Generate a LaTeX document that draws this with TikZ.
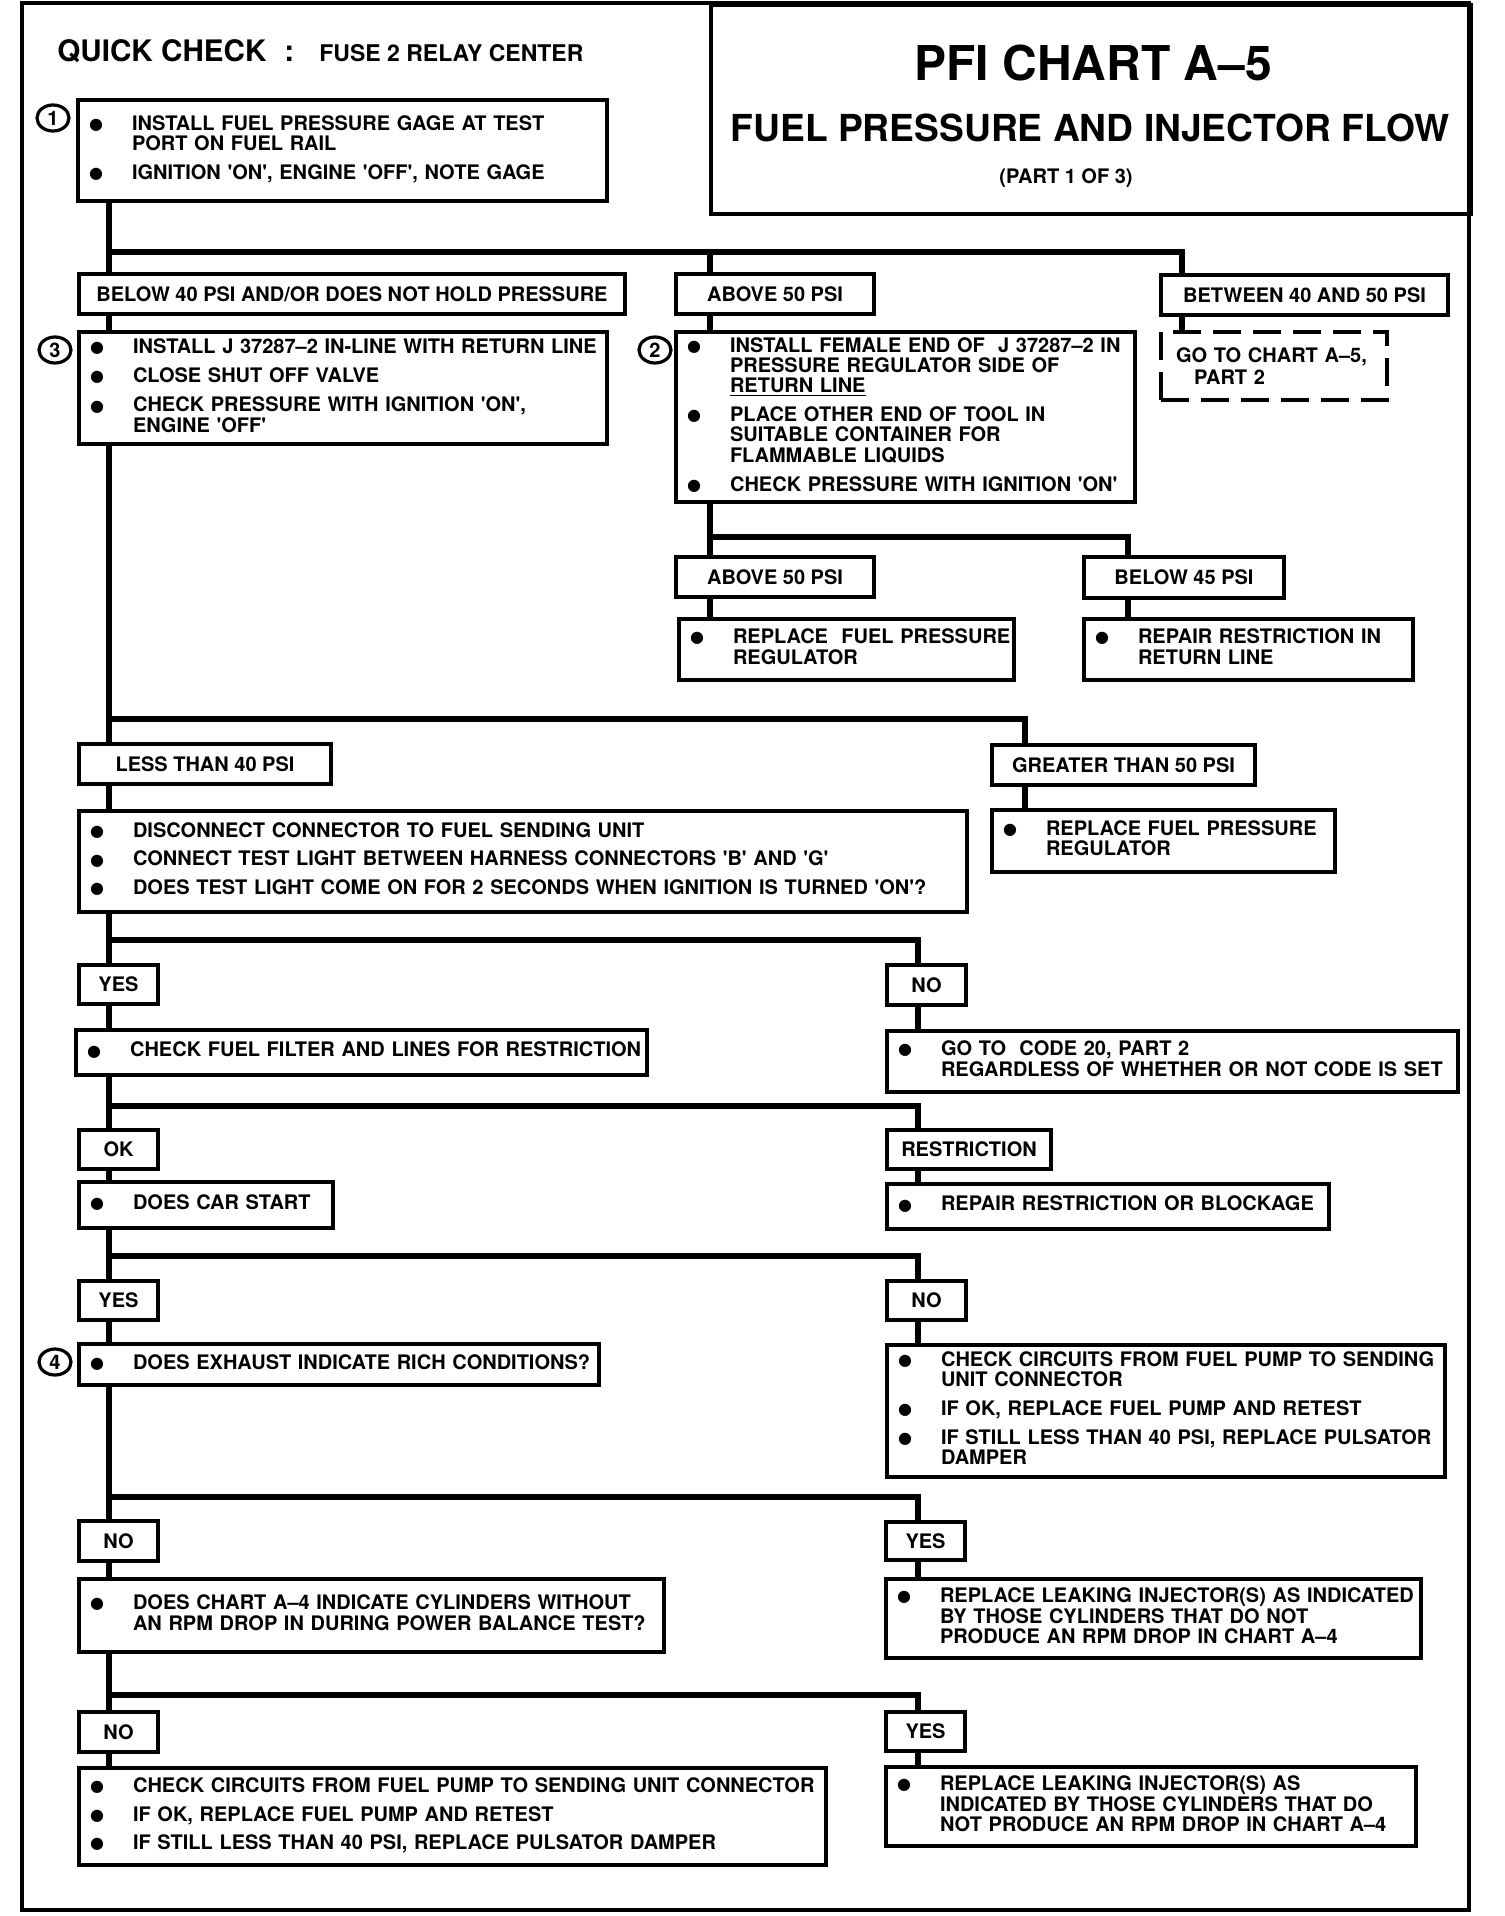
\documentclass[tikz,border=0pt]{standalone}
\usepackage{fontspec}
\setmainfont{TeX Gyre Heros}
\newfontfamily\symfont{DejaVu Sans}
\usetikzlibrary{shapes.geometric}
\newcommand\bodyfont{\fontsize{10}{9.75}\selectfont\bfseries}
\newcommand\tightfont{\fontsize{10}{9}\selectfont\bfseries}
\newcommand\sq[1]{\textquotesingle#1\textquotesingle}
\newcommand\bul{\raisebox{.4pt}{\symfont\fontsize{8}{8}\selectfont ●}}
\newcommand\blist[1]{\hspace*{5.5pt}\begin{tabular}{@{}p{21.5pt}@{}l@{}}#1\end{tabular}}
\tikzset{
  box/.style={draw,line width=2pt,anchor=north west,inner sep=0pt,align=left,font=\bodyfont},
  tag/.style={draw,line width=2pt,anchor=north west,inner sep=0pt,font=\bodyfont},
  wire/.style={line width=3pt},
  num/.style={ellipse,draw,line width=1.6pt,inner sep=0pt,minimum width=16pt,minimum height=13pt,font=\bodyfont}
}
\begin{document}
\begin{tikzpicture}[x=.5pt,y=-.5pt]
        \useasboundingbox(0,0)rectangle(1504,1916);
        \draw[line width=2pt](22,3)rectangle(1469,1910);
        \node[draw,line width=2pt,anchor=north west,inner sep=0pt,minimum width=380pt,minimum height=104.5pt](hdr)at(709,3){};
        \node[font=\fontsize{24}{24}\selectfont\bfseries](ttl)at(1093,63){PFI CHART A--5};
        \node[font=\fontsize{18.6}{18.6}\selectfont\bfseries](sub)at(1090,128){FUEL PRESSURE AND INJECTOR FLOW};
        \node[font=\bodyfont](part)at(1066,178){(PART 1 OF 3)};
        \node[anchor=base west,inner sep=0pt,font=\fontsize{14.8}{14.8}\selectfont\bfseries](qc)at(57,62){QUICK CHECK\hspace{9pt}:};
        \node[anchor=base west,inner sep=0pt,font=\fontsize{11.5}{11.5}\selectfont\bfseries](fuse)at(319,62){FUSE 2 RELAY CENTER};
        % top block
        \node[box,text width=264.5pt,minimum height=50.5pt](b1)at(76,98){\blist{\bul & INSTALL FUEL PRESSURE GAGE AT TEST\\ & PORT ON FUEL RAIL\\[4pt] \bul & IGNITION \sq{ON}, ENGINE \sq{OFF}, NOTE GAGE}};
        \node[num](c1)at(53,118){1};
        \node[tag,minimum width=273pt,minimum height=20pt](lbBelow)at(77,272){BELOW 40 PSI AND/OR DOES NOT HOLD PRESSURE};
        \node[tag,minimum width=99pt,minimum height=20pt](lbAbove)at(674,272){ABOVE 50 PSI};
        \node[tag,minimum width=143.5pt,minimum height=20pt](lbBetween)at(1159,273){BETWEEN 40 AND 50 PSI};
        \node[tag,dash pattern=on 14pt off 6pt,align=left,text width=113pt,minimum height=34pt,font=\fontsize{10}{11}\selectfont\bfseries](goto)at(1159,330){\hspace*{7.5pt}GO TO CHART A--5,\\\hspace*{16.5pt}PART 2};
        \node[box,font=\tightfont,text width=264pt,minimum height=56pt](b3)at(77,330){\blist{\bul & INSTALL J 37287--2 IN-LINE WITH RETURN LINE\\[4.5pt] \bul & CLOSE SHUT OFF VALVE\\[4.5pt] \bul & CHECK PRESSURE WITH IGNITION \sq{ON},\\ & ENGINE \sq{OFF}}};
        \node[num](c3)at(55,350){3};
        \node[box,font=\tightfont,text width=229.5pt,minimum height=85pt](b2)at(674,330){\blist{\bul & INSTALL FEMALE END OF\ \ J 37287--2 IN\\ & PRESSURE REGULATOR SIDE OF\\ & \underline{RETURN LINE}\\[4.5pt] \bul & PLACE OTHER END OF TOOL IN\\ & SUITABLE CONTAINER FOR\\ & FLAMMABLE LIQUIDS\\[4.5pt] \bul & CHECK PRESSURE WITH IGNITION \sq{ON}}};
        \node[num](c2)at(655,350){2};
        \node[tag,minimum width=99pt,minimum height=20pt](lbAbove2)at(674,555){ABOVE 50 PSI};
        \node[box,text width=167.5pt,minimum height=30.5pt](b5)at(677,617){\blist{\bul & REPLACE\ \ FUEL PRESSURE\\ & REGULATOR}};
        \node[tag,minimum width=100pt,minimum height=20.5pt](lbBelow45)at(1082,555){BELOW 45 PSI};
        \node[box,text width=164.5pt,minimum height=30.5pt](b6)at(1082,617){\blist{\bul & REPAIR RESTRICTION IN\\ & RETURN LINE}};
        % pressure test
        \node[tag,minimum width=126pt,minimum height=20pt](lbLess)at(77,742){LESS THAN 40 PSI};
        \node[tag,minimum width=131.5pt,minimum height=20pt](lbGreater)at(990,743){GREATER THAN 50 PSI};
        \node[box,text width=444pt,minimum height=50.5pt](b7)at(77,809){\blist{\bul & DISCONNECT CONNECTOR TO FUEL SENDING UNIT\\[4pt] \bul & CONNECT TEST LIGHT BETWEEN HARNESS CONNECTORS \sq{B} AND \sq{G}\\[4pt] \bul & DOES TEST LIGHT COME ON FOR 2 SECONDS WHEN IGNITION IS TURNED \sq{ON}?}};
        \node[box,text width=171.5pt,minimum height=31pt](b8)at(990,808){\blist{\bul & REPLACE FUEL PRESSURE\\ & REGULATOR}};
        \node[tag,minimum width=39.5pt,minimum height=19.5pt](lbYes1)at(77,963){YES};
        \node[tag,minimum width=39.5pt,minimum height=20pt](lbNo1)at(885,963){NO};
        \node[box,text width=285.5pt,minimum height=22.5pt](b9)at(74,1028){\blist{\bul & CHECK FUEL FILTER AND LINES FOR RESTRICTION}};
        \node[box,text width=285.5pt,minimum height=30.5pt](b10)at(885,1029){\blist{\bul & GO TO\ \ CODE 20, PART 2\\ & REGARDLESS OF WHETHER OR NOT CODE IS SET}};
        \node[tag,minimum width=39.5pt,minimum height=19.5pt](lbOk)at(77,1128){OK};
        \node[tag,minimum width=82pt,minimum height=19.5pt](lbRestr)at(885,1128){RESTRICTION};
        \node[box,text width=127pt,minimum height=23pt](b11)at(77,1180){\blist{\bul & DOES CAR START}};
        \node[box,text width=221pt,minimum height=22.5pt](b12)at(885,1182){\blist{\bul & REPAIR RESTRICTION OR BLOCKAGE}};
        \node[tag,minimum width=39.5pt,minimum height=19.5pt](lbYes2)at(77,1279){YES};
        \node[tag,minimum width=39.5pt,minimum height=19.5pt](lbNo2)at(885,1279){NO};
        \node[box,text width=260pt,minimum height=20.5pt](b13)at(77,1342){\blist{\bul & DOES EXHAUST INDICATE RICH CONDITIONS?}};
        \node[num](c4)at(55,1362){4};
        \node[box,text width=279pt,minimum height=66pt](b14)at(885,1343){\blist{\bul & CHECK CIRCUITS FROM FUEL PUMP TO SENDING\\ & UNIT CONNECTOR\\[4pt] \bul & IF OK, REPLACE FUEL PUMP AND RETEST\\[4pt] \bul & IF STILL LESS THAN 40 PSI, REPLACE PULSATOR\\ & DAMPER}};
        \node[tag,minimum width=39.5pt,minimum height=20pt](lbNo3)at(77,1519){NO};
        \node[tag,minimum width=39.5pt,minimum height=19pt](lbYes3)at(884,1520){YES};
        \node[box,text width=292.5pt,minimum height=36.5pt](b15)at(77,1577){\blist{\bul & DOES CHART A--4 INDICATE CYLINDERS WITHOUT\\ & AN RPM DROP IN DURING POWER BALANCE TEST?}};
        \node[box,text width=267.5pt,minimum height=39.5pt](b16)at(884,1577){\blist{\bul & REPLACE LEAKING INJECTOR(S) AS INDICATED\\ & BY THOSE CYLINDERS THAT DO NOT\\ & PRODUCE AN RPM DROP IN CHART A--4}};
        \node[tag,minimum width=39.5pt,minimum height=20pt](lbNo4)at(77,1710){NO};
        \node[tag,minimum width=39.5pt,minimum height=19.5pt](lbYes4)at(884,1710){YES};
        \node[box,text width=373.5pt,minimum height=48.5pt](b17)at(77,1766){\blist{\bul & CHECK CIRCUITS FROM FUEL PUMP TO SENDING UNIT CONNECTOR\\[4pt] \bul & IF OK, REPLACE FUEL PUMP AND RETEST\\[4pt] \bul & IF STILL LESS THAN 40 PSI, REPLACE PULSATOR DAMPER}};
        \node[box,text width=265pt,minimum height=39.5pt](b18)at(884,1765){\blist{\bul & REPLACE LEAKING INJECTOR(S) AS\\ & INDICATED BY THOSE CYLINDERS THAT DO\\ & NOT PRODUCE AN RPM DROP IN CHART A--4}};
        % wiring
        \coordinate(tk)at(109,0);\coordinate(rt)at(918,0);
        \coordinate(ka)at(710,0);\coordinate(kb)at(1182,0);\coordinate(kc)at(1128,0);\coordinate(kd)at(1025,0);
        \coordinate(j1)at(109,252);\coordinate(j2)at(710,537);\coordinate(j3)at(109,719);
        \foreach\a/\b in{b1/lbBelow,lbBelow/b3,b3/lbLess,lbLess/b7,b7/lbYes1,lbYes1/b9,b9/lbOk,lbOk/b11,b11/lbYes2,lbYes2/b13,b13/lbNo3,lbNo3/b15,b15/lbNo4,lbNo4/b17}
          \draw[wire](\a.south-|tk)--(\b.north-|tk);
        \foreach\a/\b in{lbNo1/b10,lbRestr/b12,lbNo2/b14,lbYes3/b16,lbYes4/b18}
          \draw[wire](\a.south-|rt)--(\b.north-|rt);
        \foreach\y/\b in{940/lbNo1,1106/lbRestr,1256/lbNo2,1497/lbYes3,1695/lbYes4}{
          \coordinate(jr)at(109,\y);
          \draw[wire](jr)-|(\b.north-|rt);}
        \draw[wire](j1)-|(lbBetween.north-|kb);
        \draw[wire](j1-|ka)--(lbAbove.north-|ka);
        \draw[wire](lbAbove.south-|ka)--(b2.north-|ka);
        \draw[wire](lbBetween.south-|kb)--(goto.north-|kb);
        \draw[wire](b2.south-|ka)--(lbAbove2.north-|ka);
        \draw[wire](j2)-|(lbBelow45.north-|kc);
        \draw[wire](lbAbove2.south-|ka)--(b5.north-|ka);
        \draw[wire](lbBelow45.south-|kc)--(b6.north-|kc);
        \draw[wire](j3)-|(lbGreater.north-|kd);
        \draw[wire](lbGreater.south-|kd)--(b8.north-|kd);
      \end{tikzpicture}
\end{document}
